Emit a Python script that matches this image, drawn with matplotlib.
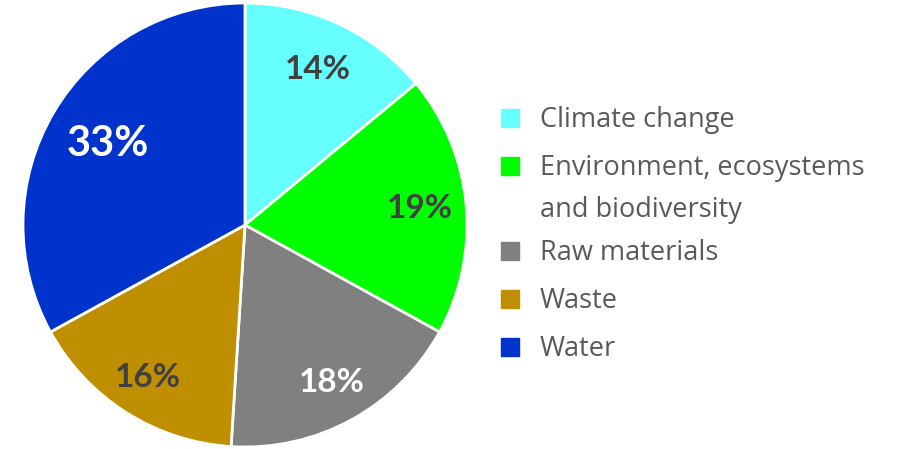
import numpy as np
import matplotlib.pyplot as plt
from matplotlib.patches import Rectangle

categories = ['Climate change', 'Environment, ecosystems\nand biodiversity',
              'Raw materials', 'Waste', 'Water']
shares = [14, 19, 18, 16, 33]
colors = ['#66FFFF', '#00FF00', '#808080', '#BF8F00', '#0033CC']
label_colors = ['#404040', '#404040', '#FFFFFF', '#404040', '#FFFFFF']
label_sizes = [24, 24, 24, 24, 30]
label_dist = [0.775, 0.79, 0.81, 0.815, 0.72]

plt.rcParams['font.family'] = ['Lato', 'DejaVu Sans']

fig = plt.figure(figsize=(8.97, 4.49), dpi=100)
ax = fig.add_axes([23 / 897, 2 / 449, 444 / 897, 444 / 449])

wedges, texts, autotexts = ax.pie(
    shares, colors=colors, startangle=90, counterclock=False,
    autopct='%d%%', pctdistance=0.77,
    wedgeprops=dict(edgecolor='white', linewidth=2))
for w, t, c, s, d in zip(wedges, autotexts, label_colors, label_sizes, label_dist):
    t.set_color(c)
    t.set_fontsize(s)
    t.set_fontweight('bold')
    a = np.deg2rad((w.theta1 + w.theta2) / 2)
    t.set_position((d * np.cos(a), d * np.sin(a)))
ax.set_xlim(-1, 1)
ax.set_ylim(-1, 1)
ax.set_aspect('equal')

# legend drawn by hand so the square sits on the first text line
y = 118
for name, col in zip(categories, colors):
    yf = 1 - y / 449
    fig.patches.append(Rectangle((501 / 897, yf - 9 / 449), 18 / 897, 18 / 449,
                                 transform=fig.transFigure, color=col))
    lines = name.split('\n')
    for k, line in enumerate(lines):
        fig.text(540 / 897, yf - (k * 42 + 2) / 449, line, fontsize=19.5,
                 color='#595959', va='center', family=['Open Sans', 'DejaVu Sans'])
    y += 48 + 37 * (len(lines) - 1)

fig.savefig('out.png', dpi=100)
